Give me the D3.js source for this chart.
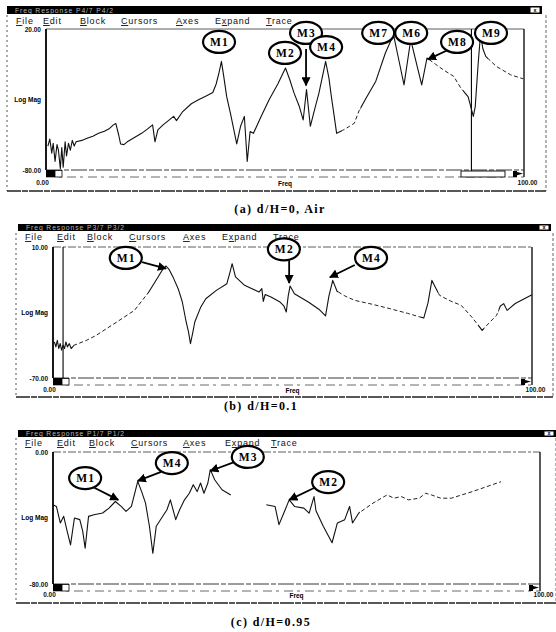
<!DOCTYPE html>
<html><head><meta charset="utf-8">
<script src="https://cdn.jsdelivr.net/npm/d3@7"></script>
<style>
body{margin:0;background:#fff;}
svg{display:block;}
</style></head>
<body><svg id="fig" width="556" height="632" font-family="Liberation Sans, Arial, sans-serif"></svg>
<script>
// ---- (a) d/H = 0, in air : frequency (0-100) and log magnitude (dB)
const freqA = [0.4,0.8,1.2,1.5,1.9,2.3,2.6,3.0,3.3,3.6,4.0,4.3,4.7,5.1,5.5,5.9,6.3,
  7.5,8.6,9.8,11,12.2,13.3,14.1,14.6,15.2,15.6,16.3,17,18.5,20,21.2,22.3,22.8,23.4,24.5,25.6,
  26.7,27.3,28.5,30.4,32,33.5,34.9,35.6,36.2,36.7,37.2,37.8,38.6,39.3,39.9,40.7,41.5,42.1,42.7,43.4,
  45,46.7,48.5,50.1,51,51.9,53,53.8,54.5,55.3,56.2,57.1,58.5,59.2,59.7,60.3,60.8,62,63.5,64.5,
  65.5,66.8,69,71,72.7,73.8,74.9,76.3,77.5,78.6,79.7,81.5,83.1,85.3,86.8,88.3,89.4,89.8,90.4,90.9,
  91.4,92,94.2,97.2,99.8];
const magA = [-63,-58,-68,-61,-74,-62,-66,-79,-64,-78,-60,-70,-61,-66,-59,-63,-60,
  -59,-57.5,-56,-54,-52.5,-50.5,-48,-47,-55,-61.5,-62,-60,-57,-54,-51,-48,-60,-51.5,-48,-45,
  -42,-45,-39,-33,-30,-27.5,-25,-19,-11,-3,-14,-28,-40,-51.6,-61.5,-49,-42,-74,-52.7,-54,
  -42,-30,-19,-7.7,-16,-25.5,-35,-44.5,-23,-49,-37,-25.5,-3,-15,-28,-42,-54,-52,-49,-46.8,
  -38,-30,-17,3,16,-1.8,-19.6,12.4,-4.3,-19.6,-0.6,-5,-8.9,-13.6,-22,-28,-42,-35,-5,16,
  6,0.6,-6.5,-12.5,-15.3];

// ---- (b) d/H = 0.1
const freqB = [0.3,0.6,0.9,1.2,1.5,1.8,2.1,2.4,2.7,3.0,3.4,3.8,4.4,
  7,9,11.1,14,17,20,22,23,23.6,24.3,25.2,26.2,27,27.8,28.3,28.7,29.2,29.6,30.8,31.9,
  34.1,36.3,36.9,37.4,38.1,40,43,43.6,43.9,44.3,45.5,47.4,48.2,48.7,49.1,49.5,50.4,53.3,55.5,56.9,
  57.6,58.4,59.3,61,63,66.7,70.4,74,77.4,78.3,79.1,79.9,80.7,83,85.2,87.5,89.6,91,92.6,93.4,
  94.1,94.8,96.5,100];
const magB = [-48,-51,-47,-52,-49,-53,-50,-52,-48,-51,-49,-52,-50,
  -47,-44,-40,-34.5,-28.7,-17.5,-8,-3.2,-1.6,-4,-9.3,-16,-23.6,-35.8,-42,-49,-42,-35.8,-27,-21.6,
  -16.5,-12.4,-6,-0.2,-8.3,-13.4,-17.5,-15.4,-23.2,-19,-20.5,-23.6,-26,-29.7,-20,-13.8,-18.5,-23.6,-28,-32.1,
  -20,-10.4,-17,-20,-22.6,-25,-27.7,-30.5,-33.4,-24,-10.4,-15,-19.5,-23,-25.6,-33,-40.9,-36.5,-31.7,-26,
  -24.6,-28.7,-24.5,-19.1];

// ---- (c) d/H = 0.95 (no trace recorded between about 37 and 43)
const freqC = [0,0.7,1.5,2.2,2.9,3.6,4.4,5.5,6.1,6.6,7.3,8.4,10.2,11.5,12.8,14,15,16.1,17.4,18.2,
  19,19.8,20.5,21.2,22.3,23.4,24.1,25.2,26,27,28,28.8,29.6,30.3,31,31.8,32.3,33.2,34.7,36.5,
  40,43.8,45.6,46.4,47.4,48.5,49.6,51.5,52.6,53.6,54,55.5,57.3,58.4,59.9,60.9,61.5,62.8,65.7,68.6,
  70,71.5,73,75.2,76.5,77.7,79.6,81.8,86.1,92];
const magC = [-32,-33,-43,-39,-48,-56.3,-40,-41,-48,-58.3,-39,-38,-37,-34,-30,-33,-36,-33,-17.8,-24,
  -31,-45,-61.4,-45,-40,-35,-29,-41,-35,-29,-25,-19.8,-24,-18.8,-25,-18.8,-10.7,-16.8,-22.9,-26,
  null,-32,-33,-44,-37,-29,-33,-34,-37,-27,-35.6,-45,-55,-43,-41,-33,-43,-37,-31,-26,
  -28,-27,-29,-28,-25,-26,-28,-28,-24,-18];

// axis limits and tick labels
const yRangeA = [-80, 20], yRangeB = [-70, 10], yRangeC = [-80, 0];
const freqRange = [0, 100];
const yTickLabelsA = ["20.00", "-80.00"];
const yTickLabelsB = ["10.00", "-70.00"];
const yTickLabelsC = ["0.00", "-80.00"];
const xTickLabels = ["0.00", "100.00"];

// mode markers
const modesA = ["M1","M2","M3","M4","M7","M6","M8","M9"];
const modesB = ["M1","M2","M4"];
const modesC = ["M1","M4","M3","M2"];

const menuItems = ["File","Edit","Block","Cursors","Axes","Expand","Trace"];
const titles = ["Freq Response   P4/7 P4/2","Freq Response   P3/7 P3/2","Freq Response   P1/7 P1/2"];
const captions = ["(a) d/H=0, Air","(b) d/H=0.1","(c) d/H=0.95"];

const SERIF = "Liberation Serif, Times New Roman, serif";
const svg = d3.select("#fig");
const defs = svg.append("defs");
defs.append("marker").attr("id","head").attr("viewBox","0 0 10 10")
  .attr("refX",9).attr("refY",5).attr("markerWidth",5).attr("markerHeight",5)
  .attr("markerUnits","strokeWidth").attr("orient","auto")
  .append("path").attr("d","M0,0 L10,5 L0,10 Z").attr("fill","#000");

const panels = [
  {key:"a", freq:freqA, mag:magA, yRange:yRangeA, yLabels:yTickLabelsA, modes:modesA,
   title:titles[0], caption:captions[0],
   frame:{l:7, r:546, t:7, b:191}, bar:{l:7, r:542, t:6, h:8},
   menuY:24, menuX:[16,43,80,121,176,215,266],
   plot:{l:46, r:524, t:29, b:170}, xLabY:186, captionX:280, captionY:213,
   dashed:[[62,66],[80,87.5],[92.5,100]], cursor:89, thumb:[461,505],
   marks:[[36.2,10.8],[50,3],[54.4,17.2],[58.6,7.2],[69.5,17.2],[76.4,17.2],[86,10.8],[93.1,17.2]],
   arrows:[[[54.4,5.8],[54.4,-20]],[[84.1,5.1],[79.9,-1.5]]]},
  {key:"b", freq:freqB, mag:magB, yRange:yRangeB, yLabels:yTickLabelsB, modes:modesB,
   title:titles[1], caption:captions[1],
   frame:{l:16, r:553, t:225, b:397}, bar:{l:18, r:551, t:224, h:7},
   menuY:240, menuX:[25,57,87,129,183,222,273],
   plot:{l:53, r:532, t:247, b:378}, xLabY:393, captionX:261, captionY:410,
   dashed:[[4.5,20],[59.5,77],[80.5,89],[90,93]], cursor:2.1, thumb:null,
   marks:[[15.2,3.3],[48.2,8.6],[66.4,3.3]],
   arrows:[[[18.6,0.8],[23.6,-3.2]],[[49.3,1.8],[49.3,-12]],[[63,-1],[57.8,-8.5]]]},
  {key:"c", freq:freqC, mag:magC, yRange:yRangeC, yLabels:yTickLabelsC, modes:modesC,
   title:titles[2], caption:captions[2],
   frame:{l:16, r:556, t:430, b:603}, bar:{l:18, r:556, t:430, h:7},
   menuY:446, menuX:[25,57,89,131,183,225,271],
   plot:{l:53, r:540, t:452, b:584}, xLabY:598, captionX:271, captionY:626,
   dashed:[[63,100]], cursor:null, thumb:null,
   marks:[[6.6,-15.8],[24.4,-6.7],[40,-3],[56.5,-18.2]],
   arrows:[[[8.2,-21.2],[13.4,-29]],[[22.2,-12.1],[17.4,-17.5]],[[37.2,-6.1],[32.3,-11.5]],[[53.6,-21.8],[48.5,-29]]]}
];

function drawPanel(p) {
  const g = svg.append("g").attr("class","panel-" + p.key);
  const x = d3.scaleLinear().domain(freqRange).range([p.plot.l, p.plot.r]);
  const y = d3.scaleLinear().domain(p.yRange).range([p.plot.b, p.plot.t]);

  // window frame
  g.append("line").attr("x1",p.frame.l).attr("x2",p.frame.l).attr("y1",p.frame.t+8).attr("y2",p.frame.b)
    .attr("stroke","#555").attr("stroke-dasharray","2,3");
  g.append("line").attr("x1",p.frame.r).attr("x2",p.frame.r).attr("y1",p.frame.t+8).attr("y2",p.frame.b)
    .attr("stroke","#666").attr("stroke-dasharray","3,2");
  g.append("line").attr("x1",p.frame.l).attr("x2",p.frame.r).attr("y1",p.frame.b).attr("y2",p.frame.b)
    .attr("stroke","#222").attr("stroke-width",1.4).attr("stroke-dasharray","14,1,6,1");

  // title bar
  g.append("rect").attr("x",p.bar.l).attr("y",p.bar.t).attr("width",p.bar.r-p.bar.l).attr("height",p.bar.h).attr("fill","#000");
  g.append("text").attr("x",p.bar.l+8).attr("y",p.bar.t+p.bar.h-1.3).attr("font-size",6.8)
    .attr("fill","#b5b5b5").attr("letter-spacing",0.9).text(p.title);
  g.append("rect").attr("x",p.bar.r-12).attr("y",p.bar.t+1).attr("width",10).attr("height",p.bar.h-2)
    .attr("fill","#fff").attr("stroke","#000");
  g.append("text").attr("x",p.bar.r-7).attr("y",p.bar.t+p.bar.h-1.6).attr("text-anchor","middle")
    .attr("font-size",5.5).attr("font-weight","bold").text("x");

  // menu row
  menuItems.forEach((m,i) => {
    const u = m === "Expand" ? 1 : 0;
    const t = g.append("text").attr("x",p.menuX[i]).attr("y",p.menuY).attr("font-size",9)
      .attr("letter-spacing",0.8).attr("fill","#111");
    if (u > 0) t.append("tspan").text(m.slice(0,u));
    t.append("tspan").attr("text-decoration","underline").text(m[u]);
    t.append("tspan").text(m.slice(u+1));
  });

  // plot frame
  g.append("line").attr("x1",p.plot.l).attr("x2",p.plot.r).attr("y1",p.plot.t).attr("y2",p.plot.t)
    .attr("stroke","#333").attr("stroke-width",0.8).attr("stroke-dasharray", p.key==="a" ? null : "8,2,3,2");
  g.append("line").attr("x1",p.plot.l).attr("x2",p.plot.l).attr("y1",p.plot.t).attr("y2",p.plot.b)
    .attr("stroke","#000").attr("stroke-width",1.8);
  g.append("line").attr("x1",p.plot.r).attr("x2",p.plot.r).attr("y1",p.plot.t).attr("y2",p.plot.b+7)
    .attr("stroke","#000").attr("stroke-width",1.3);

  // scroll bar under the plot
  const sb = p.plot.b;
  g.append("line").attr("x1",p.plot.l).attr("x2",p.plot.r).attr("y1",sb).attr("y2",sb)
    .attr("stroke","#222").attr("stroke-width",0.9).attr("stroke-dasharray","16,2,5,2");
  g.append("line").attr("x1",p.plot.l).attr("x2",p.plot.r).attr("y1",sb+7).attr("y2",sb+7)
    .attr("stroke","#444").attr("stroke-width",0.8).attr("stroke-dasharray","9,4,3,5");
  g.append("rect").attr("x",p.plot.l).attr("y",sb).attr("width",9).attr("height",7).attr("fill","#000");
  g.append("rect").attr("x",p.plot.l+9).attr("y",sb+0.5).attr("width",7).attr("height",6.5).attr("fill","#fff").attr("stroke","#000").attr("stroke-width",0.8);
  g.append("path").attr("d",`M${p.plot.r-11},${sb+1} L${p.plot.r-1},${sb+3.5} L${p.plot.r-11},${sb+6.5} Z`).attr("fill","#000");
  g.append("rect").attr("x",p.plot.r-11).attr("y",sb+1).attr("width",4).attr("height",6).attr("fill","#000");

  // axis labels
  const yAxis = d3.axisLeft(y).tickValues(p.yRange.slice().reverse()).tickSize(0).tickPadding(5)
    .tickFormat((d,i) => p.yLabels[i]);
  const ya = g.append("g").attr("transform",`translate(${p.plot.l},0)`).call(yAxis);
  ya.select(".domain").remove();
  ya.attr("font-family",null).attr("font-size",null);
  ya.selectAll("text").attr("font-size",6.5).attr("font-weight","bold").attr("fill","#111");

  const xAxis = d3.axisBottom(x).tickValues(freqRange).tickSize(0).tickPadding(0)
    .tickFormat((d,i) => xTickLabels[i]);
  const xa = g.append("g").attr("transform",`translate(0,${p.xLabY-6})`).call(xAxis);
  xa.select(".domain").remove();
  xa.attr("font-family",null).attr("font-size",null);
  xa.selectAll("text").attr("font-size",6.5).attr("font-weight","bold").attr("fill","#111");
  xa.selectAll(".tick").filter(d => d === 0).select("text").attr("dx",-4);
  xa.selectAll(".tick").filter(d => d === 100).select("text").attr("dx",3);

  g.append("text").attr("x",(p.plot.l+p.plot.r)/2).attr("y",p.xLabY).attr("text-anchor","middle")
    .attr("font-size",6.5).attr("font-weight","bold").text("Freq");
  g.append("text").attr("x",p.plot.l-5).attr("y",(p.plot.t+p.plot.b)/2+2).attr("text-anchor","end")
    .attr("font-size",6.5).attr("font-weight","bold").text("Log Mag");

  // cursor
  if (p.cursor !== null) {
    g.append("line").attr("x1",x(p.cursor)).attr("x2",x(p.cursor)).attr("y1",p.plot.t).attr("y2",p.plot.b + (p.thumb ? 1 : 0))
      .attr("stroke","#000").attr("stroke-width",1.1);
  }
  if (p.thumb) {
    g.append("rect").attr("x",p.thumb[0]).attr("y",sb+1).attr("width",p.thumb[1]-p.thumb[0]).attr("height",6)
      .attr("fill","#fff").attr("stroke","#000").attr("stroke-width",0.9);
  }

  // response trace: solid where clear, broken where the printed trace fades
  const pts = p.freq.map((f,i) => ({f, m:p.mag[i]}));
  const line = d3.line().defined(d => d.m !== null).x(d => x(d.f)).y(d => y(d.m));
  const solidId = "solid-" + p.key, dashId = "dash-" + p.key;
  const cs = defs.append("clipPath").attr("id",solidId);
  const cd = defs.append("clipPath").attr("id",dashId);
  let prev = freqRange[0];
  p.dashed.forEach(([a,b]) => {
    cs.append("rect").attr("x",x(prev)-1).attr("y",p.plot.t-40).attr("width",x(a)-x(prev)+1).attr("height",p.plot.b-p.plot.t+60);
    cd.append("rect").attr("x",x(a)).attr("y",p.plot.t-40).attr("width",x(b)-x(a)).attr("height",p.plot.b-p.plot.t+60);
    prev = b;
  });
  cs.append("rect").attr("x",x(prev)).attr("y",p.plot.t-40).attr("width",x(freqRange[1])-x(prev)+2).attr("height",p.plot.b-p.plot.t+60);

  g.append("path").datum(pts).attr("d",line).attr("fill","none").attr("stroke","#111")
    .attr("stroke-width",1.1).attr("stroke-linejoin","round").attr("clip-path",`url(#${solidId})`);
  g.append("path").datum(pts).attr("d",line).attr("fill","none").attr("stroke","#222")
    .attr("stroke-width",1).attr("stroke-dasharray","4,2.5").attr("clip-path",`url(#${dashId})`);

  // arrows
  p.arrows.forEach(([from,to]) => {
    g.append("line").attr("x1",x(from[0])).attr("y1",y(from[1])).attr("x2",x(to[0])).attr("y2",y(to[1]))
      .attr("stroke","#000").attr("stroke-width",1.8).attr("marker-end","url(#head)");
  });

  // mode labels
  p.modes.forEach((m,i) => {
    const cx = x(p.marks[i][0]), cy = y(p.marks[i][1]);
    g.append("ellipse").attr("cx",cx).attr("cy",cy).attr("rx",16).attr("ry",11)
      .attr("fill","#fff").attr("stroke","#000").attr("stroke-width",2.2);
    g.append("text").attr("x",cx+0.5).attr("y",cy+4).attr("text-anchor","middle")
      .attr("font-family",SERIF).attr("font-weight","bold")
      .attr("font-size",11.5).attr("letter-spacing",1.2).text(m);
  });

  // caption
  g.append("text").attr("x",p.captionX).attr("y",p.captionY).attr("text-anchor","middle")
    .attr("font-family",SERIF).attr("font-weight","bold")
    .attr("font-size",12).attr("letter-spacing",1.4).text(p.caption);
}

panels.forEach(drawPanel);
</script>
</body></html>
